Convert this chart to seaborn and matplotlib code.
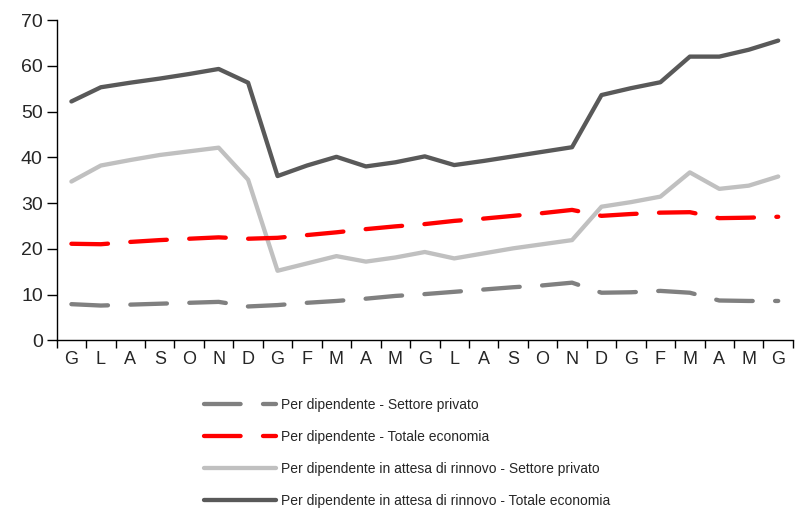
import pandas as pd
import matplotlib
matplotlib.use("Agg")
import matplotlib.pyplot as plt
import seaborn as sns

sns.set_style("ticks")
plt.rcParams['font.family'] = ['Liberation Sans', 'DejaVu Sans']

# month initials (G L A S O N D G F M A M ...)
months = ['G', 'L', 'A', 'S', 'O', 'N', 'D', 'G', 'F', 'M', 'A', 'M', 'G',
          'L', 'A', 'S', 'O', 'N', 'D', 'G', 'F', 'M', 'A', 'M', 'G']

priv = [7.9, 7.6, 7.8, 8.0, 8.2, 8.4, 7.4, 7.7, 8.2, 8.6, 9.1, 9.7, 10.1,
        10.6, 11.1, 11.6, 12.0, 12.6, 10.4, 10.5, 10.8, 10.4, 8.7, 8.6, 8.6]
tot = [21.1, 21.0, 21.5, 21.9, 22.2, 22.5, 22.2, 22.4, 23.0, 23.6, 24.3, 24.9, 25.4,
       26.1, 26.6, 27.2, 27.8, 28.5, 27.2, 27.6, 27.9, 28.0, 26.7, 26.8, 27.0]
att_priv = [34.7, 38.2, 39.4, 40.5, 41.3, 42.1, 35.1, 15.2, 16.8, 18.4, 17.2, 18.1, 19.3,
            17.9, 19.0, 20.1, 21.0, 21.9, 29.2, 30.2, 31.4, 36.7, 33.1, 33.8, 35.8]
att_tot = [52.2, 55.3, 56.3, 57.2, 58.2, 59.3, 56.3, 35.9, 38.2, 40.1, 38.0, 38.9, 40.2,
           38.3, 39.2, 40.2, 41.2, 42.2, 53.6, 55.1, 56.4, 62.0, 62.0, 63.5, 65.5]

labels = ["Per dipendente - Settore privato",
          "Per dipendente - Totale economia",
          "Per dipendente in attesa di rinnovo - Settore privato",
          "Per dipendente in attesa di rinnovo - Totale economia"]

x = list(range(len(months)))

fig = plt.figure(figsize=(8.05, 5.09), dpi=100)
ax = fig.add_axes([0.0704, 0.3314, 0.9146, 0.6293])

lw = 3.1
dash = (0, (8.5, 5.2))
sns.lineplot(x=x, y=att_tot, ax=ax, color='#595959', lw=lw, label=labels[3],
             solid_capstyle='round')
sns.lineplot(x=x, y=att_priv, ax=ax, color='#c0c0c0', lw=lw, label=labels[2],
             solid_capstyle='round')
sns.lineplot(x=x, y=tot, ax=ax, color='#ff0000', lw=lw, label=labels[1],
             linestyle=dash, dash_capstyle='round')
sns.lineplot(x=x, y=priv, ax=ax, color='#808080', lw=lw, label=labels[0],
             linestyle=dash, dash_capstyle='round')

ax.set_xlim(-0.5, len(months) - 0.5)
ax.set_ylim(0, 70)
ax.set_yticks(range(0, 71, 10))
ax.set_xticks([i - 0.5 for i in range(len(months) + 1)])
ax.set_xticklabels([])
ax.set_xticks(x, minor=True)
ax.set_xticklabels(months, minor=True)
ax.tick_params(axis='x', which='major', length=6, width=1, color='black', direction='out')
ax.tick_params(axis='x', which='minor', length=0, labelsize=13, pad=8)
ax.tick_params(axis='y', length=7, width=1, color='black', labelsize=14, pad=3)
for s in ['top', 'right']:
    ax.spines[s].set_visible(False)
for s in ['left', 'bottom']:
    ax.spines[s].set_color('black')
    ax.spines[s].set_linewidth(1)

handles, labs = ax.get_legend_handles_labels()
order = [labs.index(l) for l in labels]
ax.get_legend().remove()
fig.legend([handles[i] for i in order], [labs[i] for i in order],
           loc='upper left', bbox_to_anchor=(0.2537, 0.219), frameon=False,
           fontsize=10, handlelength=5.2, handletextpad=0.35, labelspacing=1.3,
           borderaxespad=0, borderpad=0)

fig.savefig('out.png', dpi=100)
